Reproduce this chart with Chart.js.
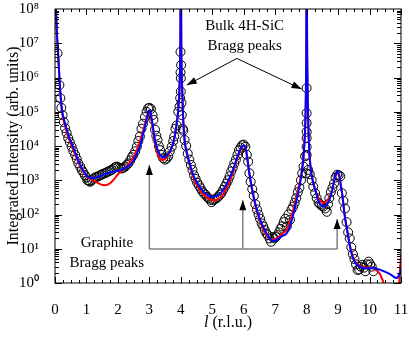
<!DOCTYPE html>
<html>
<head>
<meta charset="utf-8">
<script src="https://cdn.jsdelivr.net/npm/chart.js@4"></script>
<style>
  html, body { margin: 0; padding: 0; background: #fff; overflow: hidden; }
  #wrap { width: 409px; height: 340px; }
</style>
</head>
<body>
<div id="wrap"><canvas id="chart"></canvas></div>
<script>
// measured points (open circles)
const obsL = [0.08, 0.14, 0.17, 0.2, 0.24, 0.28, 0.32, 0.37, 0.42, 0.47, 0.53, 0.58, 0.64, 0.69, 0.74, 0.8, 0.85, 0.9, 0.95, 1.0,
  1.03, 1.08, 1.12, 1.17, 1.22, 1.27, 1.32, 1.38, 1.43, 1.48, 1.53, 1.59, 1.64, 1.69, 1.75, 1.8, 1.86, 1.91, 1.96, 2.01,
  2.07, 2.12, 2.17, 2.23, 2.28, 2.33, 2.39, 2.44, 2.49, 2.55, 2.6, 2.65, 2.7, 2.75, 2.8, 2.86, 2.91, 2.96, 3.0, 3.05,
  3.1, 3.13, 3.18, 3.22, 3.26, 3.3, 3.34, 3.39, 3.44, 3.5, 3.55, 3.6, 3.65, 3.71, 3.76, 3.79, 3.83, 3.87, 3.92, 3.96,
  3.98, 3.99, 3.99, 4.0, 4.0, 4.01, 4.02, 4.03, 4.06, 4.08, 4.12, 4.17, 4.22, 4.27, 4.32, 4.37, 4.42, 4.47, 4.52, 4.58,
  4.63, 4.68, 4.73, 4.78, 4.83, 4.88, 4.93, 4.98, 5.03, 5.08, 5.14, 5.19, 5.24, 5.29, 5.34, 5.4, 5.45, 5.5, 5.55, 5.6,
  5.65, 5.7, 5.75, 5.8, 5.85, 5.9, 5.95, 6.0, 6.05, 6.1, 6.14, 6.18, 6.22, 6.27, 6.32, 6.37, 6.42, 6.47, 6.52, 6.57,
  6.62, 6.67, 6.72, 6.77, 6.82, 6.87, 6.92, 6.97, 7.02, 7.07, 7.12, 7.17, 7.22, 7.27, 7.32, 7.37, 7.42, 7.47, 7.52, 7.57,
  7.62, 7.67, 7.72, 7.77, 7.82, 7.86, 7.9, 7.95, 7.98, 8.0, 8.0, 8.0, 8.0, 8.0, 8.0, 8.0, 8.05, 8.1, 8.16, 8.21,
  8.27, 8.32, 8.38, 8.43, 8.48, 8.53, 8.59, 8.64, 8.68, 8.72, 8.77, 8.82, 8.87, 8.92, 8.97, 9.02, 9.07, 9.12, 9.17, 9.22,
  9.27, 9.32, 9.37, 9.42, 9.47, 9.52, 9.57, 9.62, 9.67, 9.72, 9.77, 9.82, 9.87, 9.92, 9.97, 10.02, 10.07, 10.12];
const obsI = [5.1e6, 6.0e5, 2.5e5, 1.3e5, 8.0e4, 5.0e4, 3.3e4, 2.4e4, 1.7e4, 1.3e4, 9500, 7200, 5500, 4200, 3100, 2500, 2000, 1700, 1400, 1200,
  1000, 950, 900, 1000, 1100, 1200, 1250, 1300, 1400, 1450, 1550, 1600, 1700, 1800, 1900, 2000, 2200, 2400, 2500, 2400,
  2300, 2200, 2300, 2500, 2800, 3100, 3800, 4700, 5500, 7000, 9500, 1.4e4, 1.9e4, 3.2e4, 4.5e4, 7.0e4, 1.0e5, 1.25e5, 1.3e5, 1.2e5,
  8.0e4, 5.8e4, 3.0e4, 2.0e4, 1.5e4, 1.0e4, 7600, 5500, 4400, 4000, 4300, 5000, 7000, 9500, 1.4e4, 1.9e4, 3.2e4, 4.0e4, 1.0e5, 1.4e5,
  2.5e5, 1.4e6, 5.6e6, 3.9e5, 9.5e5, 2.3e6, 1.8e5, 8.0e4, 3.2e4, 2.8e4, 1.5e4, 1.0e4, 6000, 4000, 2800, 2000, 1400, 1100, 850, 700,
  580, 480, 420, 380, 330, 300, 270, 230, 260, 280, 300, 330, 380, 420, 520, 650, 800, 1000, 1300, 1800,
  2300, 3100, 4000, 5500, 7500, 9000, 1.05e4, 1.1e4, 9500, 5500, 3500, 1600, 900, 550, 350, 200, 140, 100, 75, 55,
  45, 35, 28, 25, 20, 16, 22, 20, 22, 25, 30, 38, 45, 60, 75, 45, 100, 70, 140, 170,
  220, 300, 450, 600, 1000, 1600, 2500, 5000, 1600, 5500, 9500, 1.7e4, 2.6e4, 4.7e4, 9.1e4, 4.9e5, 2000, 1500, 1000, 650,
  420, 300, 220, 200, 180, 170, 150, 120, 200, 300, 450, 600, 800, 1200, 1450, 1400, 1300, 420, 250, 150,
  60, 30, 20, 11, 7, 5, 3.5, 2.4, 2.5, 3, 3.4, 2.8, 2.2, 3.5, 4.2, 3.5, 3, 2.2];

// fit, blue curve
const blueL = [0.03, 0.06, 0.1, 0.15, 0.21, 0.32, 0.42, 0.53, 0.64, 0.74, 0.85, 0.95, 1.06, 1.17, 1.3, 1.45, 1.6, 1.8, 2.0, 2.12,
  2.3, 2.44, 2.58, 2.7, 2.8, 2.86, 2.93, 2.99, 3.04, 3.1, 3.18, 3.26, 3.34, 3.45, 3.55, 3.65, 3.73, 3.8, 3.87, 3.92,
  3.96, 3.985, 4.0, 4.015, 4.04, 4.08, 4.12, 4.2, 4.3, 4.4, 4.55, 4.7, 4.85, 5.0, 5.15, 5.3, 5.45, 5.6, 5.72, 5.82,
  5.92, 6.0, 6.06, 6.12, 6.18, 6.26, 6.36, 6.5, 6.65, 6.8, 6.95, 7.05, 7.2, 7.35, 7.45, 7.55, 7.65, 7.72, 7.8, 7.87,
  7.93, 7.97, 7.99, 8.0, 8.015, 8.04, 8.08, 8.13, 8.2, 8.28, 8.38, 8.48, 8.55, 8.65, 8.72, 8.8, 8.87, 8.93, 8.98, 9.03,
  9.08, 9.14, 9.2, 9.3, 9.4, 9.5, 9.6, 9.7, 9.85, 10.0, 10.15, 10.3, 10.5, 10.7, 10.85, 10.95, 11.0];
const blueI = [1e8, 2e7, 5e6, 7e5, 1.4e5, 4.6e4, 2.2e4, 1.2e4, 6500, 3900, 2300, 1600, 1250, 1150, 1200, 1350, 1550, 1750, 1900, 2000,
  2500, 3100, 5500, 9500, 2.2e4, 3.6e4, 7e4, 1.1e5, 9e4, 4.5e4, 1.5e4, 8000, 5500, 4700, 5200, 7000, 1.0e4, 1.8e4, 4.6e4, 1.2e5,
  6e5, 1e7, 1e10, 1e7, 6e5, 5e4, 1.5e4, 6000, 2700, 1400, 750, 480, 370, 330, 350, 450, 750, 1500, 3000, 5500,
  9000, 1.05e4, 9000, 4000, 1600, 600, 220, 80, 38, 22, 17, 18, 23, 27, 40, 80, 200, 380, 900, 2500,
  1.2e4, 1.5e5, 1e7, 1e10, 1e7, 1.5e5, 8000, 2200, 900, 500, 240, 180, 170, 200, 260, 450, 900, 1500, 1800, 1500,
  800, 350, 110, 30, 9, 4.6, 3.4, 2.9, 2.7, 2.7, 2.7, 2.5, 2.1, 1.7, 1.4, 1.8, 2.6];

// fit, red curve
const redL = [0.03, 0.06, 0.1, 0.15, 0.21, 0.32, 0.42, 0.53, 0.64, 0.74, 0.85, 0.95, 1.06, 1.17, 1.3, 1.45, 1.6, 1.72, 1.85, 2.0,
  2.15, 2.3, 2.45, 2.6, 2.72, 2.82, 2.92, 2.99, 3.04, 3.1, 3.2, 3.3, 3.4, 3.5, 3.6, 3.7, 3.8, 3.87, 3.92, 3.96,
  3.985, 4.0, 4.015, 4.04, 4.08, 4.12, 4.2, 4.3, 4.4, 4.55, 4.7, 4.85, 5.0, 5.15, 5.3, 5.45, 5.6, 5.72, 5.82, 5.92,
  6.0, 6.06, 6.12, 6.18, 6.26, 6.36, 6.5, 6.65, 6.8, 6.95, 7.05, 7.2, 7.35, 7.45, 7.55, 7.65, 7.72, 7.8, 7.87, 7.93,
  7.97, 7.99, 8.0, 8.015, 8.04, 8.08, 8.13, 8.2, 8.28, 8.38, 8.48, 8.55, 8.65, 8.72, 8.8, 8.87, 8.93, 8.98, 9.03, 9.08,
  9.14, 9.2, 9.3, 9.4, 9.5, 9.6, 9.7, 9.85, 10.0, 10.15, 10.3, 10.42, 10.5, 10.6, 10.75, 10.88, 10.94, 11.0];
const redI = [1e8, 2e7, 5e6, 6.5e5, 1.2e5, 3.8e4, 1.8e4, 1.0e4, 5500, 3400, 2100, 1500, 1200, 1050, 900, 760, 720, 780, 1000, 1500,
  2000, 2700, 4000, 7600, 1.6e4, 3.2e4, 7e4, 9e4, 7.5e4, 3.5e4, 1.0e4, 5000, 3900, 4200, 5500, 8500, 1.8e4, 4.6e4, 1.2e5, 6e5,
  1e7, 1e10, 1e7, 6e5, 5e4, 1.4e4, 5500, 2400, 1200, 620, 400, 300, 260, 270, 340, 580, 1200, 2600, 5000, 8500,
  1.0e4, 8500, 3800, 1500, 550, 200, 70, 32, 21, 19, 20, 26, 35, 55, 110, 280, 510, 1100, 2800, 1.3e4,
  1.5e5, 1e7, 1e10, 1e7, 1.5e5, 8500, 2300, 950, 520, 300, 230, 220, 250, 320, 500, 900, 1400, 1600, 1350, 750,
  320, 110, 30, 10, 5, 3.6, 3.1, 2.9, 2.8, 2.6, 2.0, 1.2, 0.7, 0.3, 0.1, 0.3, 1.0, 7];

const xTicks = [0, 1, 2, 3, 4, 5, 6, 7, 8, 9, 10, 11];
const yDecades = [1, 10, 100, 1e3, 1e4, 1e5, 1e6, 1e7, 1e8];
const supers = ['⁰', '¹', '²', '³', '⁴', '⁵', '⁶', '⁷', '⁸'];

const FONT = '"Liberation Serif", "Times New Roman", serif';

function pts(ls, is) {
  return ls.map((l, i) => ({x: l, y: is[i]}));
}

function arrow(ctx, x1, y1, x2, y2, lineColor) {
  ctx.strokeStyle = lineColor;
  ctx.beginPath();
  ctx.moveTo(x1, y1);
  ctx.lineTo(x2, y2);
  ctx.stroke();
  const ang = Math.atan2(y2 - y1, x2 - x1);
  const len = 10, half = 3.5;
  ctx.fillStyle = '#000';
  ctx.beginPath();
  ctx.moveTo(x2, y2);
  ctx.lineTo(x2 - len * Math.cos(ang) + half * Math.sin(ang), y2 - len * Math.sin(ang) - half * Math.cos(ang));
  ctx.lineTo(x2 - len * Math.cos(ang) - half * Math.sin(ang), y2 - len * Math.sin(ang) + half * Math.cos(ang));
  ctx.closePath();
  ctx.fill();
}

const frameAndNotes = {
  id: 'frameAndNotes',
  afterDraw(chart) {
    const {ctx, chartArea: a, scales: {x, y}} = chart;
    ctx.save();
    ctx.strokeStyle = '#000';
    ctx.lineWidth = 1;
    ctx.strokeRect(a.left, a.top, a.right - a.left, a.bottom - a.top);

    // inward ticks
    ctx.beginPath();
    for (let v = 0; v <= 11.001; v += 0.25) {
      const px = Math.round(x.getPixelForValue(v)) + 0.5;
      const len = Math.abs(v - Math.round(v)) < 0.01 ? 6 : 3;
      ctx.moveTo(px, a.bottom); ctx.lineTo(px, a.bottom - len);
      ctx.moveTo(px, a.top); ctx.lineTo(px, a.top + len);
    }
    for (let k = 0; k < 8; k++) {
      for (let m = 1; m <= 9; m++) {
        const py = Math.round(y.getPixelForValue(m * Math.pow(10, k))) + 0.5;
        const len = m === 1 ? 7 : 4;
        ctx.moveTo(a.left, py); ctx.lineTo(a.left + len, py);
        ctx.moveTo(a.right, py); ctx.lineTo(a.right - len, py);
      }
    }
    ctx.stroke();

    // axis titles
    ctx.fillStyle = '#000';
    ctx.font = '16px ' + FONT;
    ctx.textAlign = 'center';
    ctx.textBaseline = 'middle';
    ctx.save();
    ctx.translate(14, (a.top + a.bottom) / 2);
    ctx.rotate(-Math.PI / 2);
    ctx.fillText('Integrated Intensity (arb. units)', 0, 0);
    ctx.restore();

    const rest = ' (r.l.u.)';
    ctx.font = 'italic 16px ' + FONT;
    const wl = ctx.measureText('l').width;
    ctx.font = '16px ' + FONT;
    const wr = ctx.measureText(rest).width;
    const cx = (a.left + a.right) / 2;
    const sx = cx - (wl + wr) / 2;
    ctx.textAlign = 'left';
    ctx.font = 'italic 16px ' + FONT;
    ctx.fillText('l', sx, 323);
    ctx.font = '16px ' + FONT;
    ctx.fillText(rest, sx + wl, 323);

    // annotations
    ctx.textAlign = 'center';
    ctx.font = '15px ' + FONT;
    ctx.fillText('Bulk 4H-SiC', x.getPixelForValue(6.03), y.getPixelForValue(3.2e7));
    ctx.fillText('Bragg peaks', x.getPixelForValue(6.03), y.getPixelForValue(8.3e6));
    ctx.fillText('Graphite', x.getPixelForValue(1.65), y.getPixelForValue(14.5));
    ctx.fillText('Bragg peaks', x.getPixelForValue(1.65), y.getPixelForValue(3.8));

    ctx.lineWidth = 1;
    const apx = x.getPixelForValue(5.78), apy = y.getPixelForValue(3.6e6);
    arrow(ctx, apx, apy, x.getPixelForValue(4.19), y.getPixelForValue(6.0e5), '#000');
    arrow(ctx, apx, apy, x.getPixelForValue(7.84), y.getPixelForValue(4.6e5), '#000');

    ctx.lineWidth = 1.5;
    const by = y.getPixelForValue(9.8);
    ctx.strokeStyle = '#808080';
    ctx.beginPath();
    ctx.moveTo(x.getPixelForValue(3.0), by);
    ctx.lineTo(x.getPixelForValue(8.97), by);
    ctx.stroke();
    arrow(ctx, x.getPixelForValue(3.0), by, x.getPixelForValue(3.0), y.getPixelForValue(2800), '#808080');
    arrow(ctx, x.getPixelForValue(5.97), by, x.getPixelForValue(5.97), y.getPixelForValue(260), '#808080');
    arrow(ctx, x.getPixelForValue(8.97), by, x.getPixelForValue(8.97), y.getPixelForValue(74), '#808080');
    ctx.restore();
  }
};

new Chart(document.getElementById('chart'), {
  type: 'scatter',
  data: {
    datasets: [
      {
        label: 'data',
        data: pts(obsL, obsI),
        showLine: false,
        pointStyle: 'circle',
        pointRadius: 4.5,
        pointBorderWidth: 1,
        pointBorderColor: '#000',
        pointBackgroundColor: 'rgba(0,0,0,0)',
        order: 3
      },
      {
        label: 'red fit',
        data: pts(redL, redI),
        showLine: true,
        borderColor: '#ff0000',
        borderWidth: 2,
        pointRadius: 0,
        cubicInterpolationMode: 'monotone',
        order: 2
      },
      {
        label: 'blue fit',
        data: pts(blueL, blueI),
        showLine: true,
        borderColor: '#0000ff',
        borderWidth: 2,
        pointRadius: 0,
        cubicInterpolationMode: 'monotone',
        order: 1
      }
    ]
  },
  options: {
    responsive: true,
    maintainAspectRatio: false,
    animation: false,
    layout: { padding: { top: 9, right: 8, left: 0, bottom: 0 } },
    plugins: { legend: { display: false }, tooltip: { enabled: false } },
    scales: {
      x: {
        type: 'linear',
        min: 0,
        max: 11,
        afterFit: s => { s.height = 57; s.paddingLeft = 0; s.paddingRight = 0; },
        afterBuildTicks: s => { s.ticks = xTicks.map(v => ({value: v})); },
        grid: { display: false },
        border: { display: false },
        ticks: { color: '#000', font: { family: FONT, size: 15 }, padding: 10, maxRotation: 0 }
      },
      y: {
        type: 'logarithmic',
        min: 1,
        max: 1e8,
        afterFit: s => { s.width = 55; s.paddingTop = 0; s.paddingBottom = 0; },
        afterBuildTicks: s => { s.ticks = yDecades.map(v => ({value: v})); },
        grid: { display: false },
        border: { display: false },
        ticks: {
          color: '#000',
          font: { family: FONT, size: 15 },
          padding: 8,
          callback: v => '10' + supers[Math.round(Math.log10(v))]
        }
      }
    }
  },
  plugins: [frameAndNotes]
});
</script>
</body>
</html>
